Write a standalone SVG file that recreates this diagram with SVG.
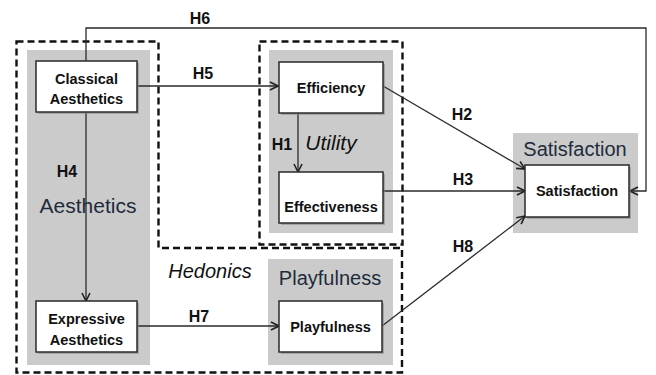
<svg xmlns="http://www.w3.org/2000/svg" width="656" height="375" viewBox="0 0 656 375">
<defs>
<marker id="arr" viewBox="0 0 10 10" refX="9" refY="5" markerWidth="10" markerHeight="10" markerUnits="userSpaceOnUse" orient="auto">
<path d="M1,1 L9,5 L1,9" fill="none" stroke="#222" stroke-width="1.6"/>
</marker>
<style>
.panel{fill:#cbcbcb}
.dash{fill:none;stroke:#111;stroke-width:2.4;stroke-dasharray:7 4}
.box{fill:#fff;stroke:#2a2a2a;stroke-width:1.5}
.shadow{fill:#8a8a8a;opacity:0.6}
.bt{font-family:"Liberation Sans",Arial,sans-serif;font-weight:bold;font-size:14.5px;fill:#111;text-anchor:middle}
.h{font-family:"Liberation Sans",Arial,sans-serif;font-weight:bold;font-size:16px;fill:#111;text-anchor:middle}
.pl{font-family:"Liberation Sans",Arial,sans-serif;font-size:20px;fill:#1e2b3c;text-anchor:middle}
.it{font-family:"Liberation Sans",Arial,sans-serif;font-style:italic;font-size:20px;fill:#111;text-anchor:middle}
.ln{fill:none;stroke:#2a2a2a;stroke-width:1.3}
</style>
</defs>
<rect width="656" height="375" fill="#fff"/>

<g id="panels">
<rect class="panel" x="27" y="50" width="123" height="315"/>
<rect class="panel" x="269" y="50" width="124" height="183"/>
<rect class="panel" x="513" y="133" width="125" height="100"/>
<rect class="panel" x="268" y="259" width="125" height="106"/>
</g>

<g id="groups">
<path class="dash" d="M16.5,41.5 H158.5 V248 H402 V372.5 H16.5 Z"/>
<rect class="dash" x="259.5" y="41.5" width="143" height="203"/>
<text class="pl" x="88" y="213" style="font-size:21px">Aesthetics</text>
<text class="it" x="331" y="150" style="font-size:21px">Utility</text>
<text class="it" x="210" y="278">Hedonics</text>
<text class="pl" x="575" y="156">Satisfaction</text>
<text class="pl" x="330" y="285">Playfulness</text>
</g>

<g id="connectors">
<path class="ln" d="M86,61 V28 H646 V191 H630" marker-end="url(#arr)"/>
<path class="ln" d="M137,86 H278" marker-end="url(#arr)"/>
<path class="ln" d="M86,112 V301" marker-end="url(#arr)"/>
<path class="ln" d="M298,113 V172" marker-end="url(#arr)"/>
<path class="ln" d="M383,86 L525,169" marker-end="url(#arr)"/>
<path class="ln" d="M383,191 H525" marker-end="url(#arr)"/>
<path class="ln" d="M382,326 L525,216" marker-end="url(#arr)"/>
<path class="ln" d="M137,326 H279" marker-end="url(#arr)"/>
<text class="h" x="200" y="24">H6</text>
<text class="h" x="203" y="79">H5</text>
<text class="h" x="67" y="177">H4</text>
<text class="h" x="282" y="150">H1</text>
<text class="h" x="462" y="120">H2</text>
<text class="h" x="463" y="185">H3</text>
<text class="h" x="463" y="252">H8</text>
<text class="h" x="199" y="322">H7</text>
</g>

<g id="classical">
<rect class="shadow" x="38" y="63" width="101" height="51"/>
<rect class="box" x="36" y="61" width="101" height="51"/>
<text class="bt" x="86.5" y="84">Classical</text>
<text class="bt" x="86.5" y="104">Aesthetics</text>
</g>
<g id="expressive">
<rect class="shadow" x="38" y="303" width="101" height="51"/>
<rect class="box" x="36" y="301" width="101" height="51"/>
<text class="bt" x="86.5" y="324">Expressive</text>
<text class="bt" x="86.5" y="345">Aesthetics</text>
</g>
<g id="efficiency">
<rect class="shadow" x="281" y="64" width="104" height="51"/>
<rect class="box" x="279" y="62" width="104" height="51"/>
<text class="bt" x="331" y="93">Efficiency</text>
</g>
<g id="effectiveness">
<rect class="shadow" x="281" y="174" width="104" height="51"/>
<rect class="box" x="279" y="172" width="104" height="51"/>
<text class="bt" x="331" y="212">Effectiveness</text>
</g>
<g id="playfulness">
<rect class="shadow" x="281" y="303" width="103" height="51"/>
<rect class="box" x="279" y="301" width="103" height="51"/>
<text class="bt" x="330.5" y="332">Playfulness</text>
</g>
<g id="satisfaction">
<rect class="shadow" x="527" y="167" width="104" height="52"/>
<rect class="box" x="525" y="165" width="104" height="52"/>
<text class="bt" x="577" y="196">Satisfaction</text>
</g>
</svg>
